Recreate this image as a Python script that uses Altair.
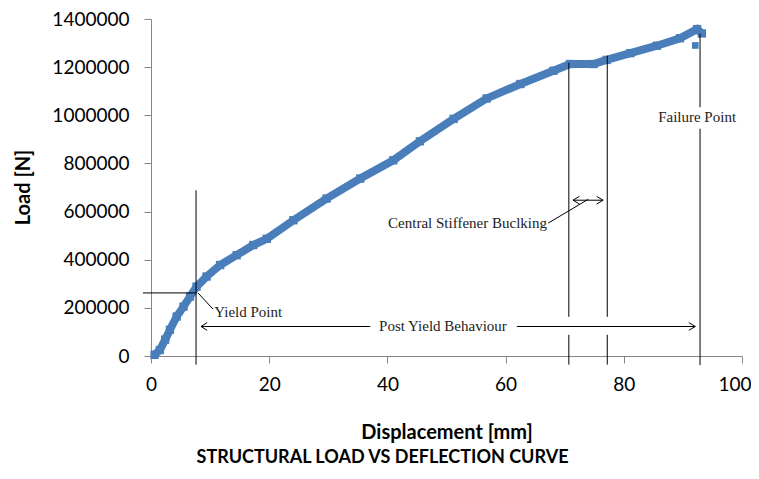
import altair as alt
import pandas as pd

# ---- curve data (displacement mm, load N) ----
disp = [0.6, 1.5, 2.4, 3.2, 4.35, 5.5, 6.6, 7.7, 9.4, 11.7, 14.5, 17.3, 19.6,
        24.1, 29.7, 35.4, 41.0, 45.5, 51.2, 56.8, 62.5, 68.1, 70.9, 74.9,
        77.1, 81.1, 85.6, 89.5, 92.4, 93.2]
load = [5000, 25000, 68000, 109000, 164000, 205000, 247000, 288000, 330000,
        378000, 419000, 461000, 487000, 564000, 654000, 737000, 813000,
        892000, 985000, 1070000, 1130000, 1185000, 1213000, 1213000,
        1230000, 1258000, 1289000, 1320000, 1358000, 1340000]
drop_disp = [92.1]
drop_load = [1290000]

# ---- annotation segments (x, y, x2, y2) in data units ----
seg_x1 = [7.62, -1.35, 8.0, 8.46, 61.9, 70.7, 70.7, 77.2, 77.2, 92.9, 92.9,
          71.4, 67.2, 8.46, 8.46, 92.1, 92.1, 71.4, 71.4, 76.5, 76.5]
seg_y1 = [688600, 262000, 260800, 122600, 122600, 162700, -36000, 162700,
          -36000, 1033500, -38000, 647200, 552000, 122600, 122600, 122600,
          122600, 647200, 647200, 647200, 647200]
seg_x2 = [7.62, 7.62, 10.5, 37.1, 92.1, 70.7, 70.7, 77.2, 77.2, 92.9, 92.9,
          76.5, 74.0, 9.5, 9.5, 91.0, 91.0, 72.5, 72.5, 75.4, 75.4]
seg_y2 = [-36000, 262000, 194600, 122600, 122600, 1218600, 88200, 1247600,
          88200, 1338700, 944100, 647200, 651300, 138600, 106600, 138600,
          106600, 663200, 631200, 663200, 631200]

# ---- annotation labels ----
lab_text = ["Yield Point", "Post Yield Behaviour", "Central Stiffener Buclking",
            "Failure Point"]
lab_x = [10.7, 49.4, 67.0, 92.4]
lab_y = [184700, 122600, 551000, 993000]
lab_align = ["left", "center", "right", "center"]

BLUE = "#4A7EBB"
GRAY = "#868686"

curve = pd.DataFrame({"d": disp, "L": load, "i": range(len(disp))})
drop = pd.DataFrame({"d": drop_disp, "L": drop_load})
segs = pd.DataFrame({"x": seg_x1, "y": seg_y1, "x2": seg_x2, "y2": seg_y2})
labs = pd.DataFrame({"t": lab_text, "x": lab_x, "y": lab_y, "a": lab_align})

xs = alt.Scale(domain=[0, 100], nice=False)
ys = alt.Scale(domain=[0, 1400000], nice=False)

x_axis = alt.Axis(values=[0, 20, 40, 60, 80, 100], grid=False, domainColor=GRAY,
                  tickColor=GRAY, tickSize=7, labelFont="Lato", labelFontSize=19,
                  labelColor="black", labelPadding=12, labelFlush=False,
                  labelAlign={"expr": "datum.value == 100 ? 'right' : 'center'"},
                  labelOffset={"expr": "datum.value == 100 ? 9 : 0"},
                  title="Displacement [mm]",
                  titleFont="Lato", titleFontSize=20, titleFontWeight="bold",
                  titleColor="black", titleBaseline="middle", titleY=76)
y_axis = alt.Axis(values=[0, 200000, 400000, 600000, 800000, 1000000, 1200000, 1400000],
                  format="d", grid=False, domainColor=GRAY, tickColor=GRAY, tickSize=7,
                  labelFont="Lato", labelFontSize=19, labelColor="black",
                  labelPadding=15, title="Load [N]", titleFont="Lato",
                  titleFontSize=20, titleFontWeight="bold", titleColor="black",
                  titleBaseline="middle", titleX=-128, titleY=168, titleAngle=-90)

line = alt.Chart(curve).mark_line(color=BLUE, strokeWidth=8).encode(
    x=alt.X("d:Q", scale=xs, axis=x_axis),
    y=alt.Y("L:Q", scale=ys, axis=y_axis),
    order="i:Q")
pts = alt.Chart(curve).mark_square(color=BLUE, size=70, opacity=1).encode(
    x=alt.X("d:Q", scale=xs), y=alt.Y("L:Q", scale=ys))
dpts = alt.Chart(drop).mark_square(color=BLUE, size=45, opacity=1).encode(
    x=alt.X("d:Q", scale=xs), y=alt.Y("L:Q", scale=ys))
rules = alt.Chart(segs).mark_rule(color="black", strokeWidth=1).encode(
    x=alt.X("x:Q", scale=xs), y=alt.Y("y:Q", scale=ys),
    x2="x2:Q", y2="y2:Q")

texts = []
for a in ["left", "center", "right"]:
    texts.append(alt.Chart(labs).transform_filter(alt.datum.a == a).mark_text(
        font="Liberation Serif", fontSize=15, color="#222222", align=a,
        baseline="middle").encode(
        x=alt.X("x:Q", scale=xs), y=alt.Y("y:Q", scale=ys), text="t:N"))

chart = alt.layer(line, pts, dpts, rules, *texts).properties(
    width=591, height=337,
    autosize=alt.AutoSizeParams(type="none"),
    padding={"left": 143, "top": 11, "right": 9, "bottom": 111},
    title=alt.TitleParams("STRUCTURAL LOAD VS DEFLECTION CURVE", orient="bottom",
                          anchor="middle", frame="group", dx=-64, offset=7,
                          font="Lato", fontSize=18, fontWeight="bold", color="black"),
).configure_view(stroke=None)

chart.save("out.html", embed_options={"renderer": "svg", "actions": False})
